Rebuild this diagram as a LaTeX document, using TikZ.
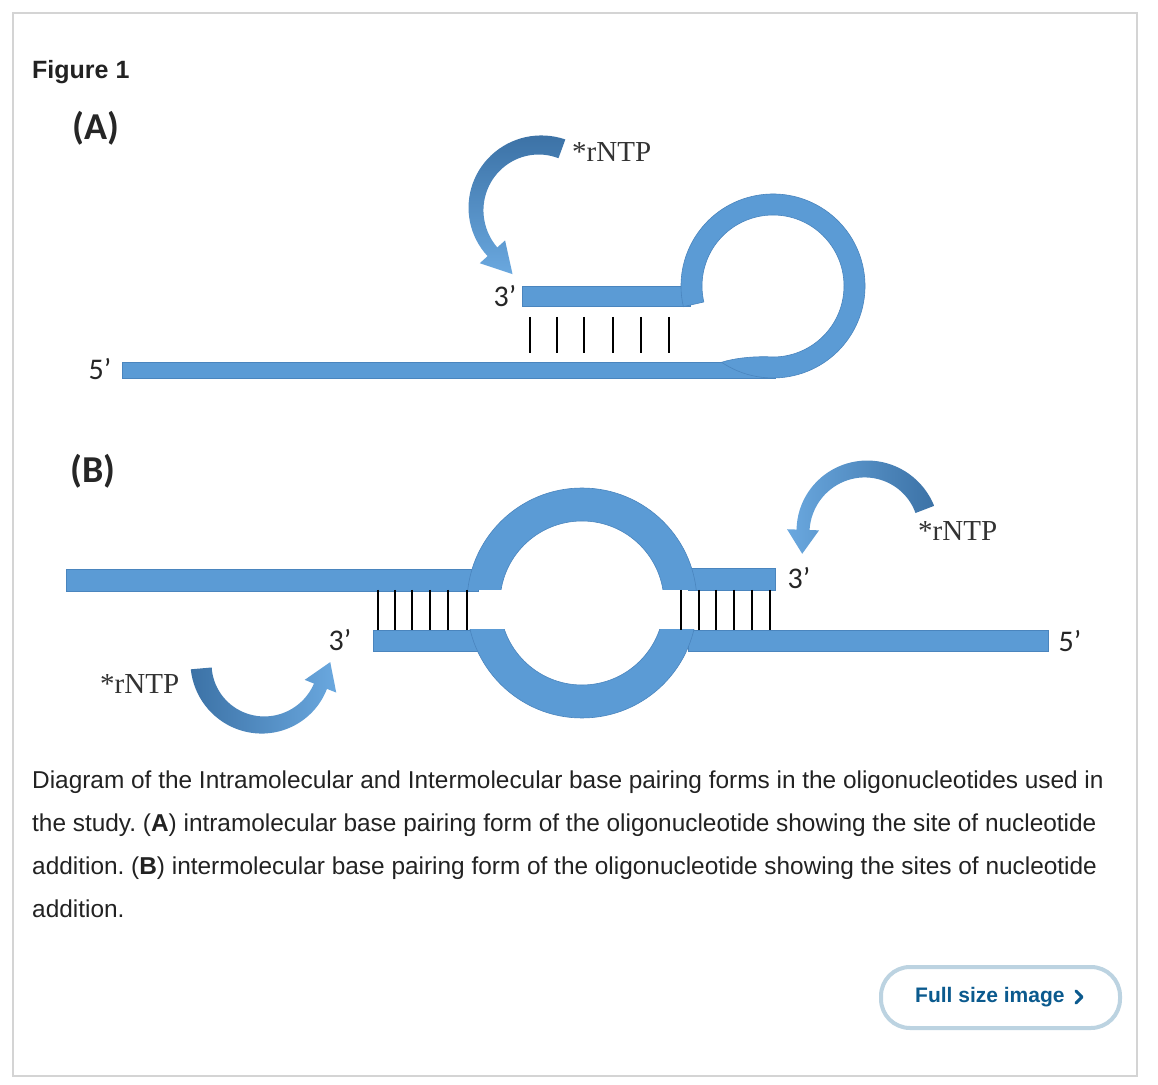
\documentclass[tikz,border=0pt]{standalone}
\usepackage{fontspec}
\setmainfont{Liberation Sans}
\newfontfamily\calib{Carlito}
\newfontfamily\timesf{Liberation Serif}
\frenchspacing
\definecolor{dnablue}{HTML}{5B9BD5}
\definecolor{dnaedge}{HTML}{4A85BE}
\definecolor{arrdark}{HTML}{3C72A6}
\definecolor{arrlight}{HTML}{6AA8DF}
\definecolor{captxt}{HTML}{222222}
\definecolor{framegray}{HTML}{D4D4D4}
\definecolor{btnborder}{HTML}{BCD3E1}
\definecolor{btntext}{HTML}{0B5A8E}
% curved block arrow: center, radius, start angle, end angle (ccw), tail half width, end half width, head half width, head length, shading
\newcommand{\blockarrow}[9]{%
  \pgfmathsetmacro{\arrS}{#4-#3}%
  \begin{scope}[shift={#1}]
    \shade[#9] plot[domain=-\arrS:0, samples=40, variable=\q]
      ({(#2+#6+(#5-#6)*(0-(\q))/\arrS)*cos(#4+\q)}, {(#2+#6+(#5-#6)*(0-(\q))/\arrS)*sin(#4+\q)})
      -- ({(#2+#7)*cos(#4)},{(#2+#7)*sin(#4)})
      -- ({#2*cos(#4)-#8*sin(#4)},{#2*sin(#4)+#8*cos(#4)})
      -- ({(#2-#7)*cos(#4)},{(#2-#7)*sin(#4)})
      -- plot[domain=-\arrS:0, samples=40, variable=\q]
      ({(#2-#6-(#5-#6)*(\arrS+(\q))/\arrS)*cos(#4-\arrS-(\q))}, {(#2-#6-(#5-#6)*(\arrS+(\q))/\arrS)*sin(#4-\arrS-(\q))})
      -- cycle;
  \end{scope}}
\tikzset{
  strand/.style={fill=dnablue, draw=dnaedge, line width=0.6pt},
  bp/.style={black, line width=2pt},
  prime/.style={font=\calib\fontsize{30}{30}\selectfont, inner sep=0, text=black!85},
  ntp/.style={font=\timesf\fontsize{29}{29}\selectfont, inner sep=0, anchor=west, text=black!80},
  panel/.style={font=\calib\bfseries\fontsize{38}{38}\selectfont, inner sep=0, anchor=west, text=black!85},
  captext/.style={font=\fontsize{24.4}{26}\selectfont, text=captxt, anchor=base west, inner sep=0},
}
\begin{document}
\begin{tikzpicture}[x=1pt, y=1pt]
\path[use as bounding box, fill=white] (0,0) rectangle (1158,1084);
\draw[framegray, line width=2.5pt] (13,1071) rectangle (1137,8);

% title
\node[font=\bfseries\fontsize{25}{25}\selectfont, text=captxt, anchor=base west, inner sep=0] (title) at (32,1005) {Figure 1};

% ---------- Panel A ----------
\node[panel] (pA) at (72,956) {(A)};
\filldraw[strand] (122,706) rectangle (775,722);
\filldraw[strand] (522,778) rectangle (690,798);
\begin{scope}[shift={(773,798)}]
  \filldraw[strand] (193:92) arc[start angle=193, end angle=-124, radius=92]
    .. controls (-38,-72) and (-20,-70.5) .. (-95:71)
    arc[start angle=-95, end angle=193, radius=71] -- cycle;
\end{scope}
\foreach \xx in {530,557,584,613,641,669} \draw[bp] (\xx,767) -- (\xx,731);
\node[prime] (a5) at (100,715) {5’};
\node[prime] (a3) at (505,788) {3’};
\node[ntp] (antp) at (572,932) {*rNTP};
\blockarrow{(540,875)}{64}{70}{222}{10}{6.5}{17}{30}{top color=arrdark,bottom color=arrlight}

% ---------- Panel B ----------
\node[panel] (pB) at (70,613) {(B)};
\filldraw[strand] (66,493) rectangle (478,515);
\filldraw[strand] (373,433) rectangle (480,454);
\filldraw[strand] (688,494) rectangle (775,516);
\filldraw[strand] (688,433) rectangle (1048,454);
\begin{scope}
  \clip (400,494) rectangle (760,620);
  \filldraw[strand, even odd rule] (582,481) circle[radius=115] (582,481) circle[radius=82];
\end{scope}
\begin{scope}
  \clip (400,454) rectangle (760,340);
  \filldraw[strand, even odd rule] (582,481) circle[radius=115] (582,481) circle[radius=82];
\end{scope}
\foreach \xx in {378,395,412,430,448,467} \draw[bp] (\xx,494) -- (\xx,454);
\foreach \xx in {681,699,716,734,752,770} \draw[bp] (\xx,494) -- (\xx,454);
\node[prime] (b3l) at (340,444) {3’};
\node[prime] (b3r) at (799,506) {3’};
\node[prime] (b5) at (1070,443) {5’};
\node[ntp] (bntpl) at (100,400) {*rNTP};
\node[ntp] (bntpr) at (918,553) {*rNTP};
\blockarrow{(263,421)}{62}{185}{338}{10.5}{7}{17}{26}{left color=arrdark,right color=arrlight}
\blockarrow{(866,552)}{63}{21}{178}{10}{6.5}{16}{24}{right color=arrdark,left color=arrlight}

% ---------- caption ----------
\node[captext] (c1) at (32,295) {Diagram of the Intramolecular and Intermolecular base pairing forms in the oligonucleotides used in};
\node[captext] (c2) at (32,252) {the study. (\textbf{A}) intramolecular base pairing form of the oligonucleotide showing the site of nucleotide};
\node[captext] (c3) at (32,210) {addition. (\textbf{B}) intermolecular base pairing form of the oligonucleotide showing the sites of nucleotide};
\node[captext] (c4) at (32,167) {addition.};

% ---------- button ----------
\draw[btnborder, line width=4pt, rounded corners=29pt] (881,117) rectangle (1120,56);
\node[font=\bfseries\fontsize{21}{21}\selectfont, text=btntext, anchor=west, inner sep=0] (btn) at (915,87) {Full size image};
\draw[btntext, line width=3pt, line cap=round, line join=round] (1076,93) -- (1082,87) -- (1076,81);
\end{tikzpicture}
\end{document}
